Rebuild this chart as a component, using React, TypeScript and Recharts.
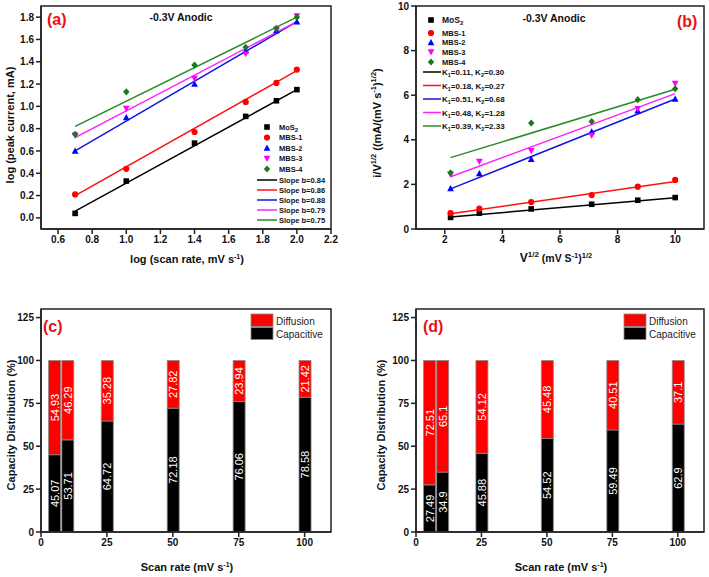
import { ComposedChart, Line, Scatter, Bar, LabelList, XAxis, YAxis, ReferenceArea } from 'recharts';

const FONT = '"Liberation Sans", Arial, sans-serif';

// (a) log(peak current) vs log(scan rate)
const logScanRate = [0.7, 1.0, 1.4, 1.7, 1.88, 2.0];
const logMoS2 = [0.04, 0.33, 0.67, 0.91, 1.05, 1.15];
const logMBS1 = [0.21, 0.44, 0.77, 1.04, 1.21, 1.33];
const logMBS2 = [0.6, 0.9, 1.2, 1.5, 1.68, 1.76];
const logMBS3 = [0.74, 0.98, 1.25, 1.47, 1.69, 1.81];
const logMBS4 = [0.75, 1.13, 1.37, 1.53, 1.7, 1.8];
const fitXA = [0.7, 2.0];
const fitMoS2A = [0.06, 1.15];
const fitMBS1A = [0.2, 1.32];
const fitMBS2A = [0.6, 1.76];
const fitMBS3A = [0.72, 1.76];
const fitMBS4A = [0.82, 1.8];
const ticksXA = [0.6, 0.8, 1.0, 1.2, 1.4, 1.6, 1.8, 2.0, 2.2];
const ticksYA = [0.0, 0.2, 0.4, 0.6, 0.8, 1.0, 1.2, 1.4, 1.6, 1.8];
const slopeLabels = ['Slope b=0.84', 'Slope b=0.86', 'Slope b=0.88', 'Slope b=0.79', 'Slope b=0.75'];

// (b) i/v^1/2 vs v^1/2
const sqrtScanRate = [2.2, 3.2, 5.0, 7.1, 8.7, 10.0];
const ratioMoS2 = [0.52, 0.71, 0.9, 1.11, 1.29, 1.41];
const ratioMBS1 = [0.71, 0.91, 1.21, 1.52, 1.9, 2.2];
const ratioMBS2 = [1.82, 2.49, 3.13, 4.37, 5.3, 5.83];
const ratioMBS3 = [2.45, 3.02, 3.51, 4.19, 5.39, 6.52];
const ratioMBS4 = [2.52, null, 4.75, 4.82, 5.8, 6.29];
const fitXB = [2.2, 10.0];
const fitMoS2B = [0.54, 1.4];
const fitMBS1B = [0.68, 2.13];
const fitMBS2B = [1.8, 5.83];
const fitMBS3B = [2.34, 6.07];
const fitMBS4B = [3.2, 6.27];
const ticksXB = [2, 4, 6, 8, 10];
const ticksYB = [0, 2, 4, 6, 8, 10];
const kLabels = [
  ['0.11', '0.30'],
  ['0.18', '0.27'],
  ['0.51', '0.68'],
  ['0.48', '1.28'],
  ['0.39', '2.33'],
];

// (c), (d) capacity distribution
const scanRates = [5, 10, 25, 50, 75, 100];
const capacitiveC = [45.07, 53.71, 64.72, 72.18, 76.06, 78.58];
const diffusionC = [54.93, 46.29, 35.28, 27.82, 23.94, 21.42];
const capacitiveD = [27.49, 34.9, 45.88, 54.52, 59.49, 62.9];
const diffusionD = [72.51, 65.1, 54.12, 45.48, 40.51, 37.1];
const ticksXBar = [0, 25, 50, 75, 100];
const ticksYBar = [0, 25, 50, 75, 100, 125];

const names = ['MoS2', 'MBS-1', 'MBS-2', 'MBS-3', 'MBS-4'];
const kinds = ['square', 'circle', 'up', 'down', 'diamond'];
const markerColors = ['#000000', '#ff0000', '#0000ff', '#ff00ff', '#1a7a1a'];
const lineColors = ['#000000', '#ff1010', '#1515e0', '#ff20ff', '#2a8a2a'];

const toPoints = (xs: number[], ys: (number | null)[]) =>
  xs.map((x, i) => ({ x, y: ys[i] })).filter((p) => p.y !== null);

const seriesA = [logMoS2, logMBS1, logMBS2, logMBS3, logMBS4].map((ys) => toPoints(logScanRate, ys));
const fitsA = [fitMoS2A, fitMBS1A, fitMBS2A, fitMBS3A, fitMBS4A].map((ys) => toPoints(fitXA, ys));
const seriesB = [ratioMoS2, ratioMBS1, ratioMBS2, ratioMBS3, ratioMBS4].map((ys) => toPoints(sqrtScanRate, ys));
const fitsB = [fitMoS2B, fitMBS1B, fitMBS2B, fitMBS3B, fitMBS4B].map((ys) => toPoints(fitXB, ys));

const barRows = (cap: number[], dif: number[]) =>
  scanRates.map((rate, i) => ({ rate, capacitive: cap[i], diffusion: dif[i] }));
const rowsC = barRows(capacitiveC, diffusionC);
const rowsD = barRows(capacitiveD, diffusionD);

function Marker({ kind, color, cx, cy }: { kind: string; color: string; cx: number; cy: number }) {
  const h = 2.8;
  if (kind === 'square') return <rect x={cx - h} y={cy - h} width={h * 2} height={h * 2} fill={color} />;
  if (kind === 'circle') return <circle cx={cx} cy={cy} r={h + 0.3} fill={color} />;
  if (kind === 'up')
    return <polygon points={`${cx},${cy - h - 0.6} ${cx + h + 0.6},${cy + h} ${cx - h - 0.6},${cy + h}`} fill={color} />;
  if (kind === 'down')
    return <polygon points={`${cx},${cy + h + 0.6} ${cx + h + 0.6},${cy - h} ${cx - h - 0.6},${cy - h}`} fill={color} />;
  return <polygon points={`${cx},${cy - h - 0.8} ${cx + h + 0.4},${cy} ${cx},${cy + h + 0.8} ${cx - h - 0.4},${cy}`} fill={color} />;
}

const axisStroke = { stroke: '#222', strokeWidth: 1.5 };
const tickStyle = { fontSize: 10, fontWeight: 'bold', fill: '#111', fontFamily: FONT };

function barLabel(p: any) {
  const cx = Number(p.x) + Number(p.width) / 2;
  const cy = Number(p.y) + Number(p.height) / 2;
  return (
    <text
      x={cx}
      y={cy}
      transform={`rotate(-90 ${cx} ${cy})`}
      textAnchor="middle"
      dominantBaseline="central"
      fill="#fff"
      fontSize={11}
      fontFamily={FONT}
    >
      {p.value}
    </text>
  );
}

function ScatterPanel({ series, fits, xDomain, yDomain, xTicks, yTicks, yWidth, right, fmt }: any) {
  return (
    <ComposedChart width={354} height={285} margin={{ top: 6, right, bottom: 26, left: 0 }}>
      <XAxis
        type="number"
        dataKey="x"
        domain={xDomain}
        ticks={xTicks}
        allowDataOverflow
        height={30}
        tickSize={5}
        tick={tickStyle}
        axisLine={axisStroke}
        tickLine={axisStroke}
        tickFormatter={fmt}
      />
      <YAxis
        type="number"
        dataKey="y"
        domain={yDomain}
        ticks={yTicks}
        allowDataOverflow
        width={yWidth}
        tickSize={5}
        tick={tickStyle}
        axisLine={axisStroke}
        tickLine={axisStroke}
        tickFormatter={fmt}
      />
      <ReferenceArea x1={xDomain[0]} x2={xDomain[1]} y1={yDomain[0]} y2={yDomain[1]} fill="none" stroke="#222" strokeWidth={1.5} ifOverflow="visible" />
      {fits.map((d: any, i: number) => (
        <Line key={'f' + i} data={d} dataKey="y" stroke={lineColors[i]} strokeWidth={1.5} dot={false} isAnimationActive={false} />
      ))}
      {series.map((d: any, i: number) => (
        <Scatter
          key={'s' + i}
          data={d}
          dataKey="y"
          isAnimationActive={false}
          shape={(p: any) => <Marker kind={kinds[i]} color={markerColors[i]} cx={p.cx} cy={p.cy} />}
        />
      ))}
    </ComposedChart>
  );
}

function BarPanel({ rows, yWidth, right }: any) {
  return (
    <ComposedChart width={354} height={292} data={rows} margin={{ top: 24, right, bottom: 15, left: 0 }}>
      <XAxis
        type="number"
        dataKey="rate"
        domain={[0, 110]}
        ticks={ticksXBar}
        height={30}
        tickSize={5}
        tick={tickStyle}
        axisLine={axisStroke}
        tickLine={axisStroke}
      />
      <YAxis
        type="number"
        domain={[0, 130]}
        ticks={ticksYBar}
        width={yWidth}
        tickSize={5}
        tick={tickStyle}
        axisLine={axisStroke}
        tickLine={axisStroke}
      />
      <ReferenceArea x1={0} x2={110} y1={0} y2={130} fill="none" stroke="#222" strokeWidth={1.5} ifOverflow="visible" />
      <Bar dataKey="capacitive" stackId="a" fill="#000" stroke="#888" strokeWidth={0.8} barSize={12} isAnimationActive={false}>
        <LabelList dataKey="capacitive" content={barLabel} />
      </Bar>
      <Bar dataKey="diffusion" stackId="a" fill="#ff0000" stroke="#888" strokeWidth={0.8} barSize={12} isAnimationActive={false}>
        <LabelList dataKey="diffusion" content={barLabel} />
      </Bar>
    </ComposedChart>
  );
}

const sub = (t: string) => (
  <tspan fontSize={6} dy={2}>
    {t}
  </tspan>
);

function Overlay() {
  const bold = { fontFamily: FONT, fontWeight: 'bold' as const, fill: '#111' };
  const rowsMarkA = [127, 137.5, 148, 158.5, 169];
  const rowsLineA = [180, 190, 200, 210, 220];
  const rowsMarkB = [20, 33, 42.5, 52, 62];
  const rowsLineB = [72, 85.5, 99, 112.5, 126];
  return (
    <svg width={709} height={577} style={{ position: 'absolute', left: 0, top: 0, pointerEvents: 'none' }}>
      {/* panel letters */}
      <text x={47} y={25} fontSize={16} fontWeight="bold" fill="#e8101a" fontFamily={FONT}>(a)</text>
      <text x={677} y={27} fontSize={16} fontWeight="bold" fill="#e8101a" fontFamily={FONT}>(b)</text>
      <text x={43} y={332} fontSize={16} fontWeight="bold" fill="#e8101a" fontFamily={FONT}>(c)</text>
      <text x={423} y={332} fontSize={16} fontWeight="bold" fill="#e8101a" fontFamily={FONT}>(d)</text>

      <text x={181} y={20.5} fontSize={10.5} textAnchor="middle" {...bold}>-0.3V Anodic</text>
      <text x={554} y={21.5} fontSize={10.5} textAnchor="middle" {...bold}>-0.3V Anodic</text>

      {/* axis titles */}
      <text x={10} y={125} fontSize={11} textAnchor="middle" transform="rotate(-90 10 125)" dominantBaseline="central" {...bold}>
        log (peak current, mA)
      </text>
      <text x={187} y={263} fontSize={11} textAnchor="middle" {...bold}>
        log (scan rate, mV s<tspan fontSize={7} dy={-4}>-1</tspan><tspan dy={4}>)</tspan>
      </text>
      <text x={377} y={123} fontSize={11} textAnchor="middle" transform="rotate(-90 377 123)" dominantBaseline="central" {...bold}>
        i/V<tspan fontSize={7.5} dy={-4}>1/2</tspan>
        <tspan dy={4}> ((mA/(mV s</tspan>
        <tspan fontSize={7.5} dy={-4}>-1</tspan>
        <tspan dy={4}>)</tspan>
        <tspan fontSize={7.5} dy={-4}>1/2</tspan>
        <tspan dy={4}>)</tspan>
      </text>
      <text x={556} y={262} fontSize={12} textAnchor="middle" {...bold}>
        V<tspan fontSize={8} dy={-5}>1/2</tspan>
        <tspan fontSize={10.5} dy={5}> (mV S</tspan>
        <tspan fontSize={7.5} dy={-4}>-1</tspan>
        <tspan fontSize={10.5} dy={4}>)</tspan>
        <tspan fontSize={7.5} dy={-4}>1/2</tspan>
      </text>
      <text x={11} y={425} fontSize={11} textAnchor="middle" transform="rotate(-90 11 425)" dominantBaseline="central" {...bold}>
        Capacity Distribution (%)
      </text>
      <text x={381} y={425} fontSize={11} textAnchor="middle" transform="rotate(-90 381 425)" dominantBaseline="central" {...bold}>
        Capacity Distribution (%)
      </text>
      <text x={187} y={571} fontSize={11} textAnchor="middle" {...bold}>
        Scan rate (mV s<tspan fontSize={7} dy={-4}>-1</tspan><tspan dy={4}>)</tspan>
      </text>
      <text x={561} y={571} fontSize={11} textAnchor="middle" {...bold}>
        Scan rate (mV s<tspan fontSize={7} dy={-4}>-1</tspan><tspan dy={4}>)</tspan>
      </text>

      {/* legend (a) */}
      {names.map((n, i) => (
        <g key={'la' + i}>
          <Marker kind={kinds[i]} color={markerColors[i]} cx={267} cy={rowsMarkA[i]} />
          <text x={279} y={rowsMarkA[i] + 2.7} fontSize={7.5} {...bold}>
            {i === 0 ? <>MoS{sub('2')}</> : n}
          </text>
        </g>
      ))}
      {slopeLabels.map((t, i) => (
        <g key={'lla' + i}>
          <line x1={257} x2={277} y1={rowsLineA[i]} y2={rowsLineA[i]} stroke={lineColors[i]} strokeWidth={1.5} />
          <text x={279} y={rowsLineA[i] + 2.7} fontSize={7.5} {...bold}>{t}</text>
        </g>
      ))}

      {/* legend (b) */}
      {names.map((n, i) => (
        <g key={'lb' + i}>
          <Marker kind={kinds[i]} color={markerColors[i]} cx={431} cy={rowsMarkB[i]} />
          <text x={442} y={rowsMarkB[i] + 2.7} fontSize={i === 0 ? 8.5 : 7.5} {...bold}>
            {i === 0 ? <>MoS{sub('2')}</> : n}
          </text>
        </g>
      ))}
      {kLabels.map((k, i) => (
        <g key={'llb' + i}>
          <line x1={423} x2={441} y1={rowsLineB[i]} y2={rowsLineB[i]} stroke={lineColors[i]} strokeWidth={1.5} />
          <text x={442} y={rowsLineB[i] + 3} fontSize={8} {...bold}>
            K<tspan fontSize={5.5} dy={2}>1</tspan>
            <tspan dy={-2}>={k[0]}, K</tspan>
            <tspan fontSize={5.5} dy={2}>2</tspan>
            <tspan dy={-2}>={k[1]}</tspan>
          </text>
        </g>
      ))}

      {/* legends (c), (d) */}
      {[251, 624].map((x0, j) => (
        <g key={'lc' + j}>
          <rect x={x0} y={314} width={22} height={12.5} fill="#ff0000" stroke="#888" strokeWidth={0.8} />
          <rect x={x0} y={327.5} width={22} height={12} fill="#000" stroke="#888" strokeWidth={0.8} />
          <text x={x0 + 25} y={324.5} fontSize={10} fill="#222" fontFamily={FONT}>Diffusion</text>
          <text x={x0 + 25} y={338} fontSize={10} fill="#222" fontFamily={FONT}>Capacitive</text>
        </g>
      ))}
    </svg>
  );
}

export default function App() {
  const fmt1 = (v: number) => v.toFixed(1);
  const fmt0 = (v: number) => String(v);
  return (
    <div style={{ position: 'absolute', left: 0, top: 0, width: 709, height: 577, background: '#fff', overflow: 'hidden' }}>
      <div style={{ position: 'absolute', left: 0, top: 0 }}>
        <ScatterPanel series={seriesA} fits={fitsA} xDomain={[0.5, 2.2]} yDomain={[-0.1, 1.9]} xTicks={ticksXA} yTicks={ticksYA} yWidth={41} right={23} fmt={fmt1} />
      </div>
      <div style={{ position: 'absolute', left: 355, top: 0 }}>
        <ScatterPanel series={seriesB} fits={fitsB} xDomain={[1, 11]} yDomain={[0, 10]} xTicks={ticksXB} yTicks={ticksYB} yWidth={61} right={5} fmt={fmt0} />
      </div>
      <div style={{ position: 'absolute', left: 0, top: 285 }}>
        <BarPanel rows={rowsC} yWidth={41} right={23} />
      </div>
      <div style={{ position: 'absolute', left: 355, top: 285 }}>
        <BarPanel rows={rowsD} yWidth={61} right={5} />
      </div>
      <Overlay />
    </div>
  );
}
